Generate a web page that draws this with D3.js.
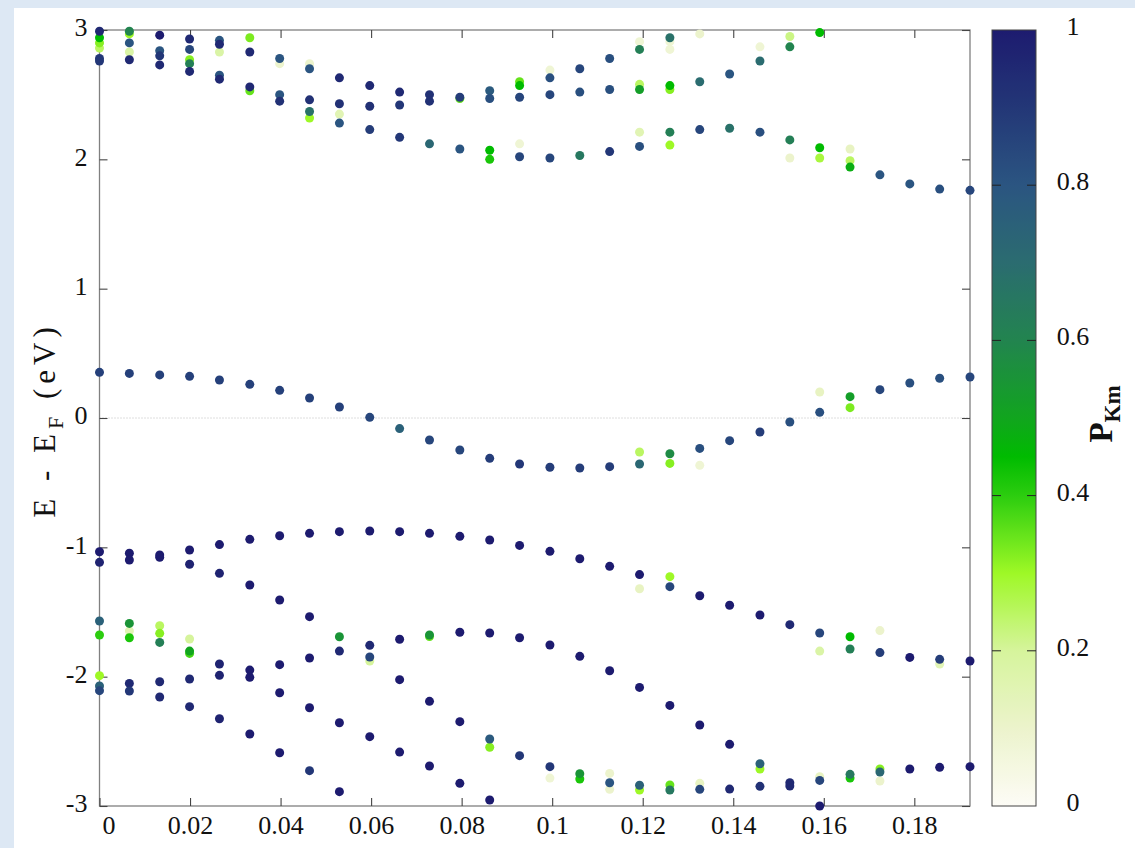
<!DOCTYPE html>
<html><head><meta charset="utf-8">
<script src="https://cdn.jsdelivr.net/npm/d3@7"></script>
<style>
html,body{margin:0;padding:0;background:#dde8f4;}
svg{display:block;}
text{font-family:"Liberation Serif","Times New Roman",serif;fill:#111;}
</style></head><body>
<svg id="chart" width="1135" height="848"></svg>
<script>
// k-path positions (30 k-points)
const kPath = [0, 0.0066, 0.0133, 0.0199, 0.0265, 0.0332, 0.0398, 0.0464, 0.0530, 0.0597,
  0.0663, 0.0729, 0.0796, 0.0862, 0.0928, 0.0995, 0.1061, 0.1127, 0.1193, 0.1260,
  0.1326, 0.1392, 0.1459, 0.1525, 0.1591, 0.1658, 0.1724, 0.1790, 0.1856, 0.1923];
const xTicks = [0, 0.02, 0.04, 0.06, 0.08, 0.1, 0.12, 0.14, 0.16, 0.18];
const yTicks = [-3, -2, -1, 0, 1, 2, 3];
const cbTicks = [0, 0.2, 0.4, 0.6, 0.8, 1];
const cbStops = [0, 0.1, 0.2, 0.3, 0.4, 0.45, 0.5, 0.6, 0.7, 0.8, 0.9, 1];
const cbColors = ["#fdfcf6", "#ecf3cc", "#d6f49c", "#9ef826", "#2ccd0f", "#00bb00",
  "#11a51e", "#22844f", "#2b6c70", "#2b5581", "#233777", "#1d1b6f"];

// energies (eV) per k-point
const energies = [
  [2.86, 2.90, 2.94, 2.99, 2.78, 2.76, 0.353, -1.034, -1.116, -1.570, -1.678, -1.992, -2.072, -2.108],
  [2.97, 2.99, 2.90, 2.83, 2.77, 0.345, -1.046, -1.098, -1.647, -1.588, -1.699, -2.052, -2.111],
  [2.96, 2.84, 2.80, 2.73, 0.333, -1.059, -1.077, -1.606, -1.665, -1.735, -2.039, -2.157],
  [2.93, 2.85, 2.77, 2.74, 2.68, 0.322, -1.021, -1.131, -1.709, -1.820, -1.802, -2.018, -2.232],
  [2.83, 2.92, 2.89, 2.65, 2.62, 0.294, -0.979, -1.201, -1.902, -1.990, -2.325],
  [2.94, 2.83, 2.53, 2.56, 0.260, -0.938, -1.291, -1.949, -2.005, -2.443],
  [2.74, 2.78, 2.50, 2.45, 0.214, -0.910, -1.407, -1.907, -2.124, -2.588],
  [2.74, 2.70, 2.46, 2.32, 2.37, 0.155, -0.892, -1.536, -1.856, -2.240, -2.727],
  [2.63, 2.43, 2.35, 2.28, 0.085, -0.879, -1.691, -1.802, -2.356, -2.889],
  [2.57, 2.41, 2.23, 0.005, -0.874, -1.758, -1.879, -1.848, -2.464],
  [2.52, 2.42, 2.17, -0.082, -0.879, -1.711, -2.023, -2.583],
  [2.50, 2.45, 2.12, -0.170, -0.892, -1.690, -1.678, -2.191, -2.691],
  [2.47, 2.48, 2.08, -0.247, -0.915, -1.657, -2.348, -2.825],
  [2.53, 2.47, 2.07, 2.00, -0.312, -0.943, -1.662, -2.546, -2.482, -2.954],
  [2.60, 2.57, 2.48, 2.12, 2.02, -0.356, -0.985, -1.699, -2.611],
  [2.69, 2.63, 2.50, 2.01, -0.381, -1.031, -1.755, -2.784, -2.696],
  [2.70, 2.52, 2.03, -0.387, -1.088, -1.843, -2.791, -2.750],
  [2.78, 2.54, 2.06, -0.376, -1.147, -1.954, -2.748, -2.871, -2.820],
  [2.91, 2.85, 2.58, 2.54, 2.21, 2.10, -0.263, -0.356, -1.320, -1.211, -2.083, -2.876, -2.840],
  [2.91, 2.85, 2.94, 2.54, 2.57, 2.21, 2.11, -0.276, -0.351, -1.227, -1.304, -2.222, -2.838, -2.876],
  [2.97, 2.60, 2.23, -0.235, -0.366, -1.374, -2.374, -2.825, -2.871],
  [2.66, 2.24, -0.175, -1.448, -2.523, -2.869],
  [2.87, 2.76, 2.21, -0.108, -1.523, -2.714, -2.673, -2.848],
  [2.95, 2.87, 2.15, 2.01, -0.031, -1.598, -2.820, -2.845],
  [2.98, 2.09, 2.01, 0.201, 0.044, -1.662, -1.802, -2.773, -2.802, -3.000],
  [2.08, 1.99, 1.94, 0.165, 0.080, -1.691, -1.786, -2.784, -2.755],
  [1.88, 0.219, -1.644, -1.814, -2.807, -2.714, -2.737],
  [1.81, 0.271, -1.851, -2.714],
  [1.77, 0.307, -1.902, -1.866, -2.701],
  [1.76, 0.317, -1.879, -2.696]
];
// projection weights P_Km per point
const weights = [
  [0.25, 0.32, 0.45, 0.95, 0.9, 0.9, 0.87, 1.0, 0.97, 0.75, 0.40, 0.30, 0.75, 0.85],
  [0.3, 0.6, 0.8, 0.18, 0.95, 0.87, 1.0, 1.0, 0.15, 0.55, 0.42, 0.95, 0.9],
  [1.0, 0.8, 0.9, 0.95, 0.87, 1.0, 1.0, 0.25, 0.32, 0.62, 0.95, 0.95],
  [0.95, 0.85, 0.32, 0.62, 0.95, 0.87, 1.0, 0.97, 0.2, 0.38, 0.5, 0.95, 0.95],
  [0.18, 0.8, 0.95, 0.8, 0.95, 0.87, 1.0, 0.97, 0.97, 0.97, 0.97],
  [0.33, 0.95, 0.35, 0.95, 0.87, 1, 1, 1, 1, 1],
  [0.1, 0.8, 0.8, 0.92, 0.87, 1, 1, 1, 1, 1],
  [0.1, 0.8, 0.92, 0.3, 0.68, 0.87, 1, 1, 1, 1, 0.9],
  [0.95, 0.92, 0.15, 0.8, 0.87, 1, 0.55, 0.95, 1, 1],
  [0.95, 0.92, 0.88, 0.85, 1, 0.95, 0.2, 0.85, 1],
  [0.95, 0.9, 0.9, 0.75, 1, 1, 1, 1],
  [0.92, 0.92, 0.72, 0.85, 1, 0.35, 0.55, 1, 1],
  [0.35, 0.88, 0.8, 0.85, 1, 1, 1, 1],
  [0.78, 0.82, 0.45, 0.42, 0.88, 1, 1, 0.32, 0.78, 1],
  [0.35, 0.45, 0.85, 0.08, 0.85, 0.9, 1, 1, 0.9],
  [0.08, 0.82, 0.85, 0.85, 0.88, 1, 1, 0.08, 0.9],
  [0.85, 0.82, 0.65, 0.88, 1, 1, 0.42, 0.55],
  [0.82, 0.82, 0.9, 0.88, 1, 1, 0.1, 0.1, 0.8],
  [0.08, 0.62, 0.25, 0.52, 0.15, 0.82, 0.25, 0.72, 0.12, 1, 1, 0.3, 0.75],
  [0.08, 0.08, 0.68, 0.32, 0.45, 0.62, 0.3, 0.58, 0.32, 0.3, 0.85, 1, 0.35, 0.65],
  [0.1, 0.7, 0.85, 0.82, 0.08, 1, 1, 0.12, 0.85],
  [0.8, 0.68, 0.85, 1, 1, 0.95],
  [0.08, 0.7, 0.82, 0.88, 1, 0.3, 0.75, 0.92],
  [0.22, 0.6, 0.62, 0.1, 0.82, 0.95, 0.95, 0.95],
  [0.45, 0.45, 0.28, 0.12, 0.82, 0.85, 0.18, 0.12, 0.85, 1],
  [0.12, 0.25, 0.48, 0.52, 0.33, 0.45, 0.62, 0.42, 0.65],
  [0.8, 0.85, 0.1, 0.88, 0.1, 0.32, 0.72],
  [0.8, 0.82, 1, 1],
  [0.82, 0.82, 0.15, 0.88, 1],
  [0.85, 0.85, 1, 1]
];

const svg = d3.select("#chart");
svg.append("rect").attr("x", 14).attr("y", 8).attr("width", 1121).attr("height", 840).attr("fill", "#fff");

const L = 99.5, R = 970, T = 30, B = 806;
const x = d3.scaleLinear().domain([0, kPath[kPath.length - 1]]).range([L, R]);
const y = d3.scaleLinear().domain([-3, 3]).range([B, T]);
const color = d3.scaleLinear().domain(cbStops).range(cbColors).clamp(true);
const plainFmt = d => String(d);

// zero line
svg.append("line").attr("x1", L).attr("x2", R).attr("y1", y(0)).attr("y2", y(0))
  .attr("stroke", "#bdbdbd").attr("stroke-width", 1).attr("stroke-dasharray", "1,2");

// frame
svg.append("rect").attr("x", L).attr("y", T).attr("width", R - L).attr("height", B - T)
  .attr("fill", "none").attr("stroke", "#808080").attr("stroke-width", 1.3);

function styleAxis(g) {
  g.select(".domain").remove();
  g.selectAll(".tick line").attr("stroke", "#444").attr("stroke-width", 1.1);
  g.selectAll("text").style("font-size", "26px").attr("fill", "#111")
    .style("font-family", '"Liberation Serif","Times New Roman",serif');
}
const gB = svg.append("g").attr("transform", `translate(0,${B})`)
  .call(d3.axisBottom(x).tickValues(xTicks).tickSize(-8).tickPadding(10).tickFormat(plainFmt));
styleAxis(gB);
gB.selectAll(".tick").filter(d => d === 0).select("text").attr("dx", 9);
const gT = svg.append("g").attr("transform", `translate(0,${T})`)
  .call(d3.axisTop(x).tickValues(xTicks).tickSize(-8).tickFormat(""));
styleAxis(gT);
const gL = svg.append("g").attr("transform", `translate(${L},0)`)
  .call(d3.axisLeft(y).tickValues(yTicks).tickSize(-8).tickPadding(12).tickFormat(plainFmt));
styleAxis(gL);
gL.selectAll("text").attr("dy", "0.22em");
const gR = svg.append("g").attr("transform", `translate(${R},0)`)
  .call(d3.axisRight(y).tickValues(yTicks).tickSize(-8).tickFormat(""));
styleAxis(gR);

// points
const pts = [];
energies.forEach((col, i) => col.forEach((e, j) => pts.push({k: kPath[i], e: e, p: weights[i][j]})));
svg.append("g").selectAll("circle").data(pts).join("circle")
  .attr("cx", d => x(d.k)).attr("cy", d => y(d.e)).attr("r", 4.5)
  .attr("fill", d => color(d.p));

// colorbar
const cbX = 992, cbW = 44;
const cbY = d3.scaleLinear().domain([0, 1]).range([B, T]);
const defs = svg.append("defs");
const grad = defs.append("linearGradient").attr("id", "cbgrad")
  .attr("x1", 0).attr("y1", 1).attr("x2", 0).attr("y2", 0);
d3.range(0, 101).forEach(i => {
  const v = i / 100;
  grad.append("stop").attr("offset", v).attr("stop-color", color(v));
});
svg.append("rect").attr("x", cbX).attr("y", T).attr("width", cbW).attr("height", B - T)
  .attr("fill", "url(#cbgrad)").attr("stroke", "#444").attr("stroke-width", 1);
const cbInner = cbTicks.filter(t => t > 0 && t < 1);
svg.append("g").selectAll("line.l").data(cbInner).join("line")
  .attr("x1", cbX).attr("x2", cbX + 9).attr("y1", d => cbY(d)).attr("y2", d => cbY(d))
  .attr("stroke", "#222").attr("stroke-width", 1);
svg.append("g").selectAll("line.r").data(cbInner).join("line")
  .attr("x1", cbX + cbW - 9).attr("x2", cbX + cbW).attr("y1", d => cbY(d)).attr("y2", d => cbY(d))
  .attr("stroke", "#222").attr("stroke-width", 1);
svg.append("g").selectAll("text").data(cbTicks).join("text")
  .attr("x", 1073).attr("y", d => cbY(d) + 5).attr("text-anchor", "middle")
  .style("font-size", "26px").text(d => plainFmt(d));

// colorbar title
const ct = svg.append("text").attr("transform", "translate(1112,414) rotate(-90)")
  .attr("text-anchor", "middle").style("font-weight", "bold").style("font-size", "33px");
ct.append("tspan").text("P");
ct.append("tspan").attr("dy", 8).style("font-size", "23px").text("Km");

// y-axis title
const yt = svg.append("text").attr("transform", "translate(55,420) rotate(-90)")
  .attr("text-anchor", "middle").style("font-size", "31px").style("letter-spacing", "5px");
yt.append("tspan").text("E - E");
yt.append("tspan").attr("dy", 8).style("font-size", "22px").text("F");
yt.append("tspan").attr("dy", -8).text(" (eV)");
</script>
</body></html>
